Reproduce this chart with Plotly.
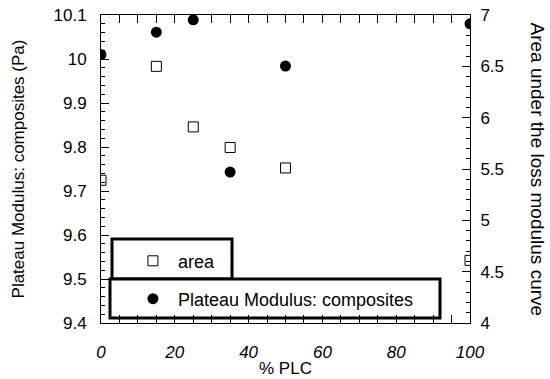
import plotly.graph_objects as go

# % PLC content of each composite
plc = [0, 15, 25, 35, 50, 100]
# Plateau modulus of the composites (left axis, Pa)
plateau = [10.01, 10.061, 10.089, 9.743, 9.984, 10.08]
# Area under the loss modulus curve (right axis)
area = [5.39, 6.50, 5.91, 5.71, 5.51, 4.61]

left_ticks = [9.4, 9.5, 9.6, 9.7, 9.8, 9.9, 10.0, 10.1]
left_labels = ["9.4", "9.5", "9.6", "9.7", "9.8", "9.9", "10", "10.1"]
right_ticks = [4, 4.5, 5, 5.5, 6, 6.5, 7]
right_labels = ["4", "4.5", "5", "5.5", "6", "6.5", "7"]
x_ticks = [0, 20, 40, 60, 80, 100]

FONT = "Liberation Sans, Arial, sans-serif"

fig = go.Figure()

fig.add_trace(go.Scatter(
    x=plc, y=area, mode="markers", name="area", yaxis="y2",
    marker=dict(symbol="square-open", size=10, color="black", line=dict(width=1)),
    legend="legend",
))
fig.add_trace(go.Scatter(
    x=plc, y=plateau, mode="markers", name="Plateau Modulus: composites",
    marker=dict(symbol="circle", size=11, color="black"),
    legend="legend2",
))

axis_common = dict(
    showline=True, linecolor="black", linewidth=1, ticks="inside",
    tickcolor="black", ticklen=8, tickwidth=1, showgrid=False, zeroline=False,
    automargin=False,
)

legend_common = dict(
    xanchor="left", yanchor="middle", itemwidth=40,
    bgcolor="rgba(0,0,0,0)", borderwidth=0, font=dict(size=18),
)

fig.update_layout(
    width=550, height=379,
    margin=dict(l=101, r=80, t=15, b=56, autoexpand=False),
    plot_bgcolor="white", paper_bgcolor="white",
    font=dict(family=FONT, color="black"),
    xaxis=dict(
        range=[0, 100], tickvals=x_ticks, mirror="allticks",
        tickfont=dict(size=17, family=FONT, style="italic"), ticklabelstandoff=14,
        title=dict(text="% PLC", font=dict(size=17), standoff=0),
        minor=dict(ticks="inside", dtick=5, ticklen=4, tickcolor="black"),
        **axis_common,
    ),
    yaxis=dict(
        range=[9.4, 10.1], tickvals=left_ticks, ticktext=left_labels,
        tickfont=dict(size=17), ticklabelstandoff=10,
        title=dict(text="Plateau Modulus: composites (Pa)", font=dict(size=17), standoff=24),
        minor=dict(ticks="inside", dtick=0.02, ticklen=4, tickcolor="black"),
        **axis_common,
    ),
    yaxis2=dict(
        range=[4, 7], tickvals=right_ticks, ticktext=right_labels,
        overlaying="y", side="right", anchor="x",
        tickfont=dict(size=17), ticklabelstandoff=6,
        minor=dict(ticks="inside", dtick=0.1, ticklen=4, tickcolor="black"),
        **axis_common,
    ),
    legend=dict(x=0.073, y=0.201, **legend_common),
    legend2=dict(x=0.073, y=0.078, **legend_common),
    showlegend=True,
)

# Frames around the two legend entries
box_line = dict(color="black", width=3)
fig.add_shape(type="rect", xref="paper", yref="paper",
              x0=(112 - 101) / 369, x1=(232 - 101) / 369,
              y0=(323 - 279) / 308, y1=(323 - 239) / 308,
              line=box_line, fillcolor="white", layer="below")
fig.add_shape(type="rect", xref="paper", yref="paper",
              x0=(110 - 101) / 369, x1=(440 - 101) / 369,
              y0=(323 - 318) / 308, y1=(323 - 279) / 308,
              line=box_line, fillcolor="white", layer="below")

# Right-hand axis title reads top to bottom
fig.add_annotation(
    text="Area under the loss modulus curve", textangle=90,
    xref="paper", yref="paper", x=1.0, y=0.5, xanchor="left", yanchor="middle",
    xshift=55, showarrow=False, font=dict(size=19),
)

fig.write_html("out.html")
